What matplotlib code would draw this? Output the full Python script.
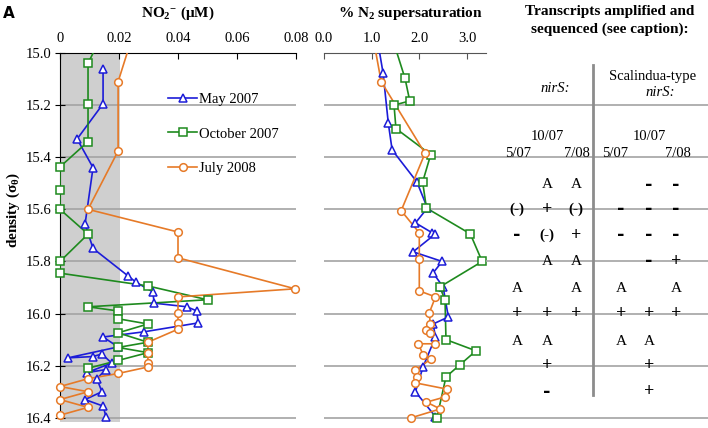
import matplotlib
matplotlib.use('Agg')
import matplotlib.pyplot as plt
from matplotlib.patches import Rectangle

plt.rcParams['font.family'] = ['Liberation Serif', 'DejaVu Serif']
plt.rcParams['mathtext.fontset'] = 'custom'
plt.rcParams['mathtext.rm'] = 'Liberation Serif'
plt.rcParams['mathtext.bf'] = 'Liberation Serif:bold'
plt.rcParams['mathtext.it'] = 'Liberation Serif:italic'

# ---- data: NO2- (uM) vs density ----
may_no2_d = [15.06, 15.195, 15.33, 15.44, 15.656, 15.75, 15.855, 15.88, 15.917, 15.96,
             15.974, 15.99, 16.036, 16.07, 16.09, 16.128, 16.17, 16.165, 16.155, 16.19,
             16.227, 16.215, 16.25, 16.30, 16.33, 16.355, 16.396]
may_no2 = [0.0146, 0.0146, 0.0058, 0.0112, 0.0085, 0.0112, 0.023, 0.0258, 0.0315, 0.0319,
           0.043, 0.0464, 0.0468, 0.0285, 0.0146, 0.0197, 0.0027, 0.0112, 0.0142, 0.0175,
           0.0090, 0.0155, 0.0125, 0.0142, 0.0085, 0.0146, 0.0156]

oct_no2_d = [14.97, 15.04, 15.195, 15.34, 15.437, 15.525, 15.6, 15.695, 15.80, 15.845,
             15.894, 15.947, 15.974, 15.99, 16.02, 16.04, 16.074, 16.11, 16.13, 16.15,
             16.18, 16.21]
oct_no2 = [0.0125, 0.0095, 0.0095, 0.0095, 0.0, 0.0, 0.0, 0.0095, 0.0, 0.0,
           0.0298, 0.050, 0.0095, 0.0197, 0.0197, 0.0298, 0.0197, 0.0298, 0.0197, 0.0298,
           0.0197, 0.0095]

jul_no2_d = [14.97, 15.11, 15.376, 15.6, 15.687, 15.786, 15.905, 15.936, 15.997, 16.036,
             16.06, 16.11, 16.15, 16.19, 16.205, 16.23, 16.25, 16.28, 16.30, 16.33,
             16.36, 16.39]
jul_no2 = [0.0236, 0.0197, 0.0197, 0.0095, 0.040, 0.040, 0.0797, 0.040, 0.040, 0.040,
           0.040, 0.0298, 0.0298, 0.0298, 0.0298, 0.0197, 0.0095, 0.0, 0.0095, 0.0,
           0.0095, 0.0]

# ---- data: % N2 supersaturation vs density ----
may_n2_d = [14.98, 15.077, 15.27, 15.372, 15.495, 15.595, 15.652, 15.69, 15.694, 15.763,
            15.80, 15.844, 15.898, 16.013, 16.04, 16.09, 16.204, 16.30, 16.396]
may_n2 = [1.15, 1.24, 1.35, 1.43, 1.95, 2.17, 1.92, 2.27, 2.34, 1.87,
          2.48, 2.29, 2.50, 2.61, 2.29, 2.34, 2.08, 1.92, 2.34]

oct_n2_d = [14.97, 15.097, 15.184, 15.2, 15.29, 15.39, 15.495, 15.595, 15.694, 15.80,
            15.898, 15.947, 16.10, 16.143, 16.197, 16.243, 16.40]
oct_n2 = [1.48, 1.70, 1.80, 1.47, 1.51, 2.24, 2.07, 2.15, 3.07, 3.32,
          2.43, 2.54, 2.56, 3.19, 2.85, 2.56, 2.37]

jul_n2_d = [14.97, 15.11, 15.385, 15.605, 15.69, 15.79, 15.913, 15.936, 15.997, 16.04,
            16.063, 16.074, 16.116, 16.116, 16.158, 16.174, 16.216, 16.243, 16.266, 16.29,
            16.32, 16.34, 16.366, 16.40]
jul_n2 = [1.06, 1.20, 2.12, 1.62, 2.0, 2.0, 2.0, 2.34, 2.21, 2.23,
          2.15, 2.23, 2.34, 1.98, 2.08, 2.25, 1.92, 1.95, 1.92, 2.58,
          2.54, 2.15, 2.44, 1.83]

no2_ticks = [0, 0.02, 0.04, 0.06, 0.08]
no2_labels = ['0', '0.02', '0.04', '0.06', '0.08']
n2_ticks = [0, 1, 2, 3]
n2_labels = ['0.0', '1.0', '2.0', '3.0']
dens_ticks = [15.0, 15.2, 15.4, 15.6, 15.8, 16.0, 16.2, 16.4]

# table of transcripts: rows at density, columns nirS (5/07, 10/07, 7/08), Scalindua (5/07, 10/07, 7/08)
tab_d = [15.505, 15.60, 15.70, 15.80, 15.905, 16.0, 16.108, 16.20, 16.30]
tab_nirs = [['', 'A', 'A'], ['(-)', '+', '(-)'], ['-', '(-)', '+'], ['', 'A', 'A'],
            ['A', '', 'A'], ['+', '+', '+'], ['A', 'A', ''], ['', '+', ''], ['', '-', '']]
tab_scal = [['', '-', '-'], ['-', '-', '-'], ['-', '-', '-'], ['', '-', '+'],
            ['A', '', 'A'], ['+', '+', '+'], ['A', 'A', ''], ['', '+', ''], ['', '+', '']]

colors = {'may': '#1c1cd8', 'oct': '#1e8a1e', 'jul': '#e67a28'}
W, H = 708, 428


def fx(px):
    return px / W


def fy(py):
    return 1 - py / H


def profile(ax, xs, ds, color, marker, label=None):
    # line is clipped to the axes, markers inside the range are not
    ax.plot(xs, ds, color=color, lw=1.2, zorder=3)
    px = [x for x, d in zip(xs, ds) if d >= 15.0]
    pd_ = [d for d in ds if d >= 15.0]
    ax.plot(px, pd_, ls='none', marker=marker, markersize=5.5, markerfacecolor='white',
            markeredgecolor=color, markeredgewidth=1.1, zorder=4, clip_on=False)
    if label:
        ax.plot([], [], color=color, lw=1.2, marker=marker, markersize=5.5,
                markerfacecolor='white', markeredgewidth=1.1, label=label)


fig = plt.figure(figsize=(7.08, 4.28), dpi=100)

y_top, y_bot = 53, 423
ylim = (16.42, 15.0)
ax1 = fig.add_axes([fx(60), fy(y_bot), (296 - 60) / W, (y_bot - y_top) / H])
ax2 = fig.add_axes([fx(324), fy(y_bot), (486 - 324) / W, (y_bot - y_top) / H])
ax3 = fig.add_axes([fx(486), fy(y_bot), (708 - 486) / W, (y_bot - y_top) / H])

grid_c = '#a3a3a3'

# left panel
ax1.add_patch(Rectangle((0, 15.0), 0.0205, 1.415, facecolor='#cfcfcf', edgecolor='none', zorder=0))
for d in dens_ticks[1:]:
    ax1.axhline(d, color=grid_c, lw=1.2, zorder=1)
profile(ax1, may_no2, may_no2_d, colors['may'], '^', 'May 2007')
profile(ax1, oct_no2, oct_no2_d, colors['oct'], 's', 'October 2007')
profile(ax1, jul_no2, jul_no2_d, colors['jul'], 'o', 'July 2008')
ax1.set_xlim(0, 0.08)
ax1.set_ylim(*ylim)
ax1.xaxis.tick_top()
ax1.set_xticks(no2_ticks)
ax1.set_xticklabels(no2_labels)
ax1.set_yticks(dens_ticks)
ax1.set_yticklabels(['%.1f' % d for d in dens_ticks])
ax1.tick_params(axis='x', direction='in', length=4, pad=6, labelsize=10.5)
ax1.tick_params(axis='y', direction='inout', length=7, pad=3, labelsize=10.5)
for s in ['right', 'bottom']:
    ax1.spines[s].set_visible(False)
ax1.spines['left'].set_bounds(15.0, 16.4)
ax1.patch.set_alpha(0)
ax1.legend(loc='upper left', bbox_to_anchor=(fx(168), fy(93)), bbox_transform=fig.transFigure,
           frameon=False, fontsize=10.5, labelspacing=1.45, handlelength=2.0,
           handletextpad=0.1, borderpad=0, borderaxespad=0)

# middle panel
for d in dens_ticks[1:]:
    ax2.axhline(d, color=grid_c, lw=1.2, zorder=1)
profile(ax2, may_n2, may_n2_d, colors['may'], '^')
profile(ax2, oct_n2, oct_n2_d, colors['oct'], 's')
profile(ax2, jul_n2, jul_n2_d, colors['jul'], 'o')
ax2.set_xlim(0, 3.4)
ax2.set_ylim(*ylim)
ax2.xaxis.tick_top()
ax2.set_xticks(n2_ticks)
ax2.set_xticklabels(n2_labels)
ax2.set_yticks([])
ax2.tick_params(axis='x', direction='in', length=4, pad=6, labelsize=10.5, color='#555555')
for s in ['right', 'bottom', 'left']:
    ax2.spines[s].set_visible(False)
ax2.spines['top'].set_color('#555555')
ax2.patch.set_alpha(0)

# table panel
ax3.set_xlim(486, 708)
ax3.set_ylim(*ylim)
ax3.axis('off')
for d in dens_ticks[1:]:
    ax3.axhline(d, color=grid_c, lw=1.2, zorder=1)
ax3.plot([593, 593], [15.046, 16.312], color='#8c8c8c', lw=2.0, zorder=2)

nirs_x = [517, 547, 576]
scal_x = [621, 649, 676]
ax3.text(555, 15.138, 'nirS:', style='italic', fontsize=10.5, ha='center', va='center')
ax3.text(653, 15.092, 'Scalindua-type', fontsize=10.5, ha='center', va='center')
ax3.text(660, 15.152, 'nirS:', style='italic', fontsize=10.5, ha='center', va='center')
for cx in (547, 649):
    ax3.text(cx, 15.322, '10/07', fontsize=10.5, ha='center', va='center')
for cx, lab in zip([518, 577, 615, 678], ['5/07', '7/08', '5/07', '7/08']):
    ax3.text(cx, 15.384, lab, fontsize=10.5, ha='center', va='center')

for d, r1, r2 in zip(tab_d, tab_nirs, tab_scal):
    for xs, row in ((nirs_x, r1), (scal_x, r2)):
        for cx, sym in zip(xs, row):
            if sym == '':
                continue
            if sym == '-':
                ax3.text(cx, d, '-', fontsize=13, fontweight='bold', family='DejaVu Sans',
                         ha='center', va='center')
            elif sym == '(-)':
                ax3.text(cx, d, '(-)', fontsize=11, fontweight='bold', ha='center', va='center')
            elif sym == '+':
                ax3.text(cx, d, '+', fontsize=13, fontweight='bold', ha='center', va='center')
            else:
                ax3.text(cx, d, sym, fontsize=11, ha='center', va='center')

# titles and labels
fig.text(fx(178), fy(13), r'NO$_\mathbf{2}$$^\mathbf{-}$ ($\mathbf{\mu}$M)', fontsize=11,
         fontweight='bold', ha='center', va='center')
fig.text(fx(410), fy(13), r'% N$_\mathbf{2}$ supersaturation', fontsize=11,
         fontweight='bold', ha='center', va='center')
fig.text(fx(610), fy(11), 'Transcripts amplified and', fontsize=11,
         fontweight='bold', ha='center', va='center')
fig.text(fx(610), fy(29), 'sequenced (see caption):', fontsize=11,
         fontweight='bold', ha='center', va='center')
fig.text(fx(13), fy(210), r'density ($\mathbf{\sigma_\theta}$)', fontsize=11, fontweight='bold',
         rotation=90, ha='center', va='center')
fig.text(fx(9), fy(13), 'A', fontsize=11, fontweight='bold', family='DejaVu Sans',
         ha='center', va='center')

fig.savefig('out.png', dpi=100)
